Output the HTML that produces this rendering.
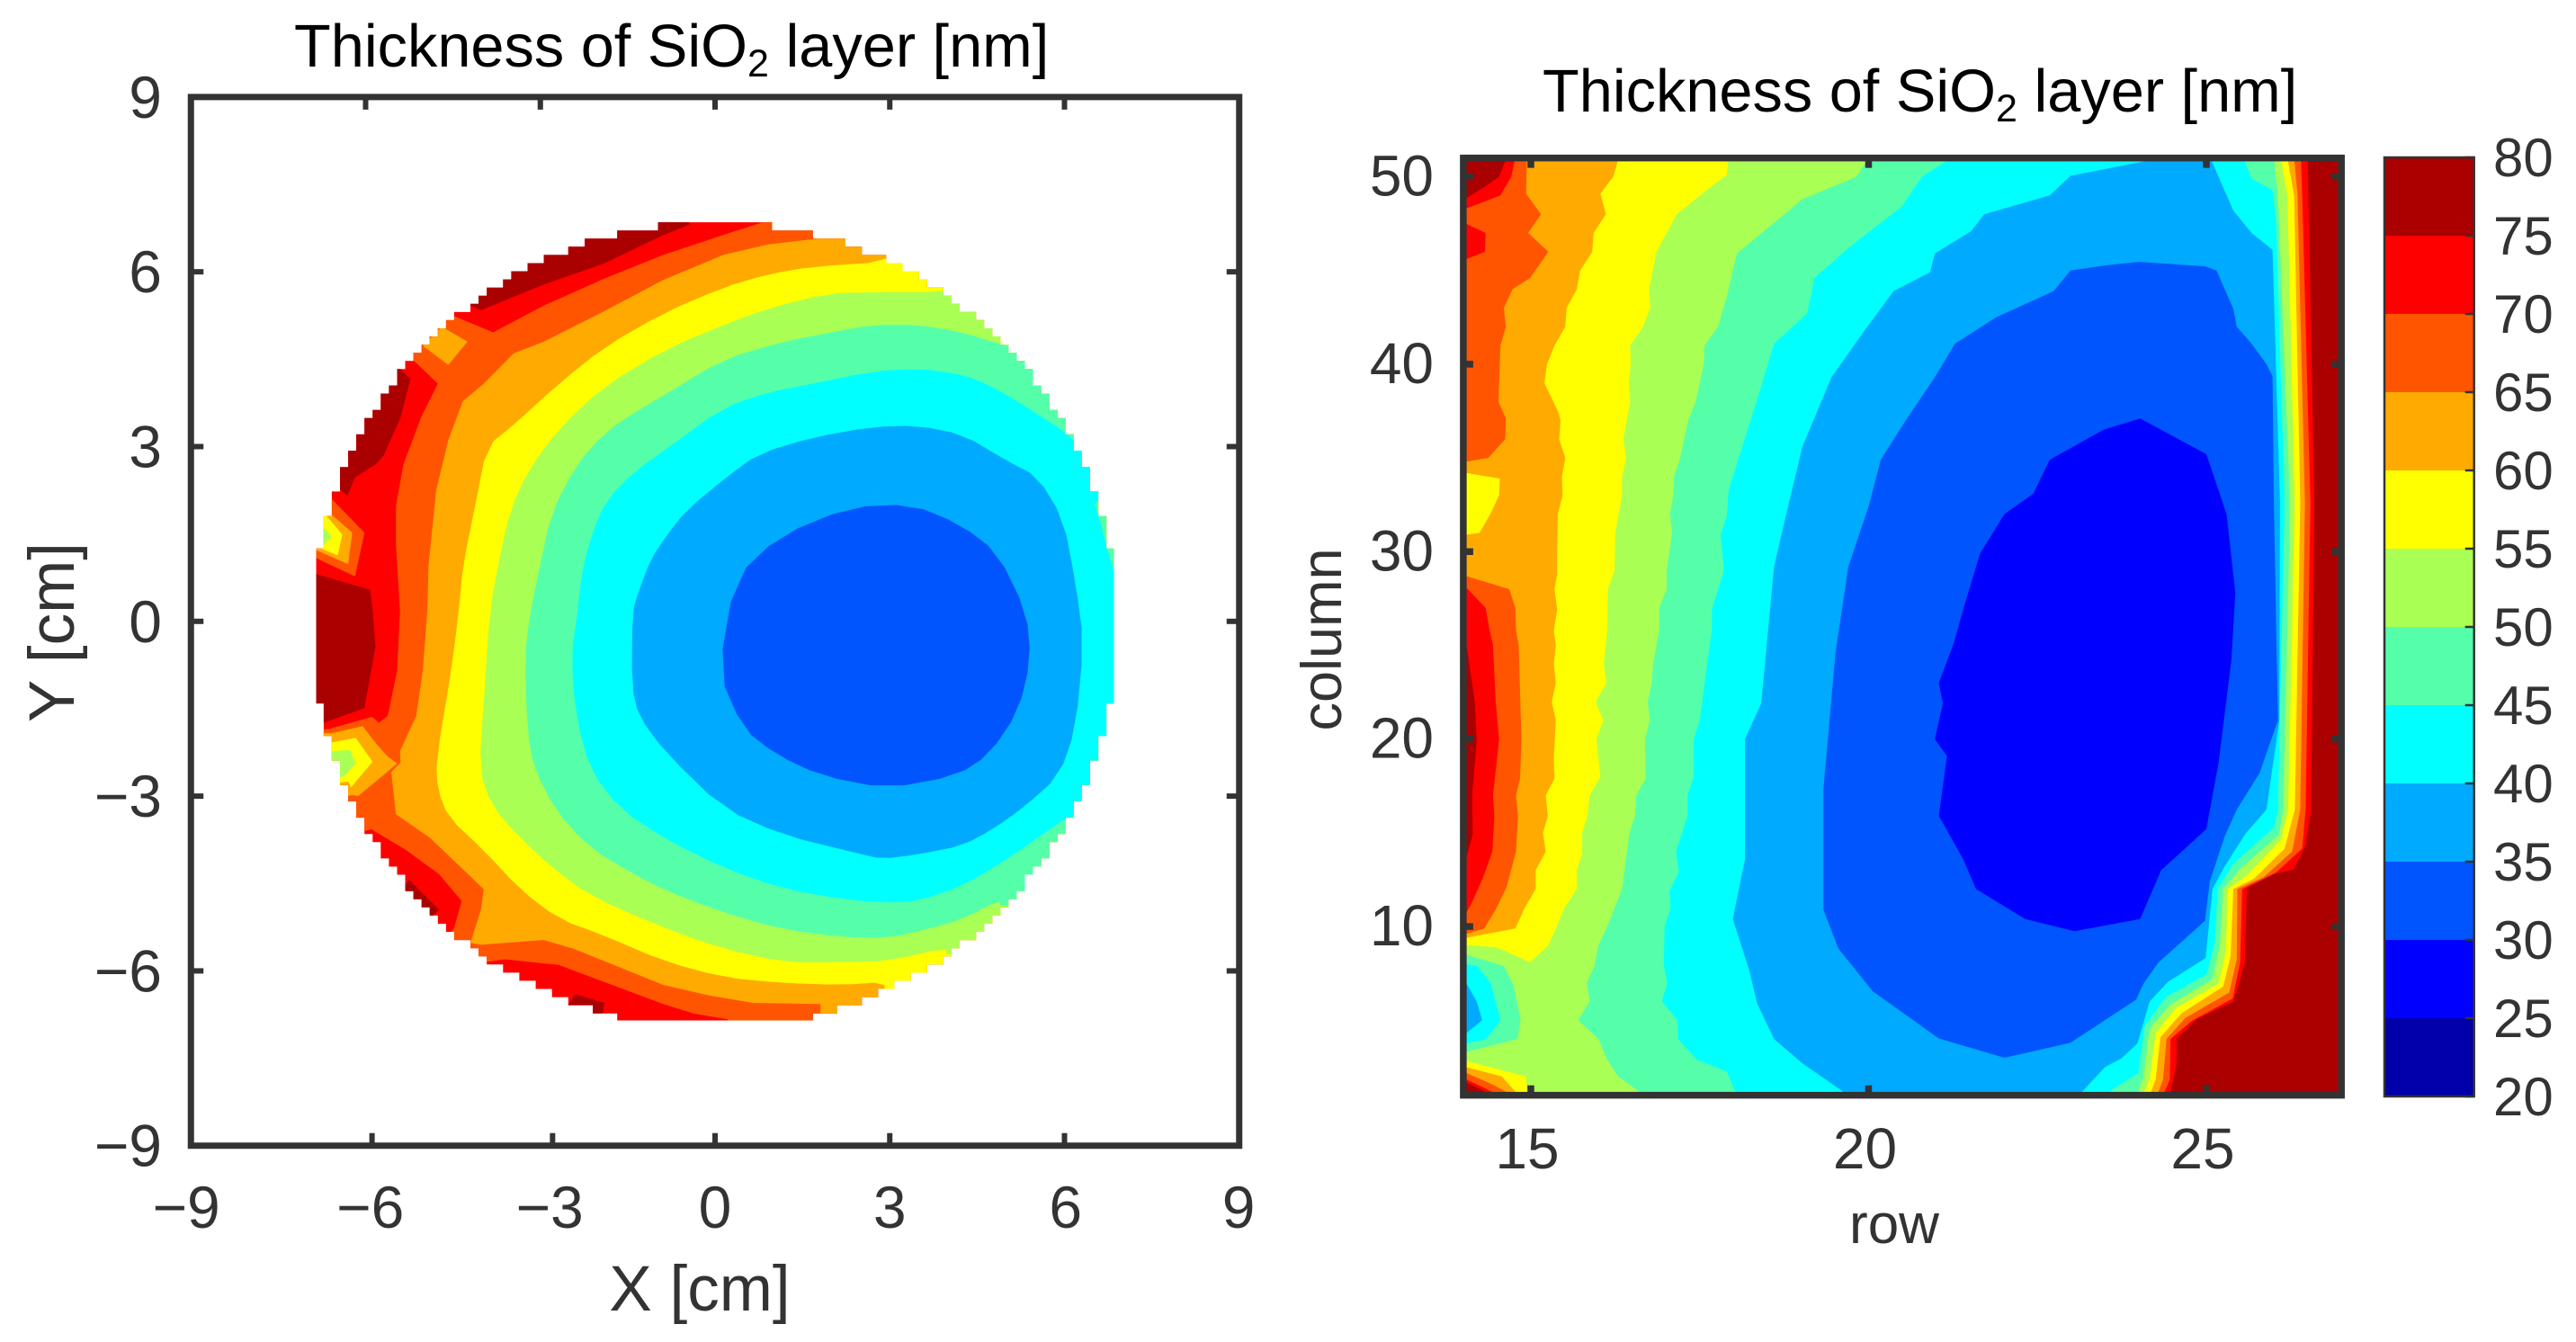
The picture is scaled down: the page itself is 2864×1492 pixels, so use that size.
<!DOCTYPE html>
<html lang="en">
<head>
<meta charset="utf-8">
<title>Thickness of SiO2 layer maps</title>
<style>
html,body{margin:0;padding:0;background:#fff;width:2864px;height:1492px;overflow:hidden}
svg{display:block}
text{font-family:"Liberation Sans",Arial,sans-serif;fill:#333}
</style>
</head>
<body>
<svg id="figure" width="2864" height="1492" viewBox="0 0 2864 1492" xmlns="http://www.w3.org/2000/svg">
  <rect x="0" y="0" width="2864" height="1492" fill="#fff"/>
  <defs>
    <clipPath id="wafer-clip"><polygon id="wafer-clip-shape" points="0,0"/></clipPath>
    <clipPath id="map-clip"><rect id="map-clip-shape" x="0" y="0" width="1" height="1"/></clipPath>
  </defs>

  <text x="327" y="74" font-size="66.7" style="fill:#000">Thickness of SiO<tspan font-size="43" dy="11">2</tspan><tspan dy="-11"> layer [nm]</tspan></text>
  <text x="1715" y="124" font-size="66.7" style="fill:#000">Thickness of SiO<tspan font-size="43" dy="11">2</tspan><tspan dy="-11"> layer [nm]</tspan></text>

  <g id="wafer-bands" clip-path="url(#wafer-clip)"></g>
  <g id="wafer-axes"></g>
  <text x="778" y="1457" font-size="71" text-anchor="middle">X [cm]</text>
  <text x="0" y="0" font-size="71" text-anchor="middle" transform="translate(82,703) rotate(-90)">Y [cm]</text>

  <g id="map-bands" clip-path="url(#map-clip)"></g>
  <g id="map-axes"></g>
  <text x="2106" y="1382" font-size="62" text-anchor="middle">row</text>
  <text x="0" y="0" font-size="63" text-anchor="middle" transform="translate(1491,711) rotate(-90)">column</text>

  <g id="colorbar"></g>
</svg>

<script>
/* ---------- shared colour scale ---------- */
const levelEdges = [20,25,30,35,40,45,50,55,60,65,70,75,80];
const levelColors = ['#0000aa','#0000ff','#0055ff','#00aaff','#00ffff','#55ffaa','#aaff55','#ffff00','#ffaa00','#ff5500','#ff0000','#aa0000'];

/* ---------- wafer chart: ticks ---------- */
const waferTicks = [-9,-6,-3,0,3,6,9];
const waferBottomTicks = [-9,-5.89,-2.79,0,3,6,9];
const waferLabelPos = [-9.08,-5.92,-2.84,0,3,6.02,8.99];
const waferRadius = 6.92;

/* ---------- wafer chart: contour regions in cm (value below level) ---------- */
const waferBelow70 = [[0.89,7.5],[9,8],[9,-8],[0.22,-7.5],[0.22,-6.83],[-0.37,-6.73],[-0.89,-6.57],[-2.68,-5.9],[-3.61,-5.8],[-5,-6],[-4.48,-5.26],[-4.35,-4.8],[-4.74,-4.34],[-5.3,-3.93],[-5.9,-3.57],[-7.5,-4],[-8,-1.85],[-6.64,-1.85],[-5.89,-1.64],[-5.77,-1.74],[-5.62,-1.62],[-5.46,-0.85],[-5.41,0.18],[-5.48,1.31],[-5.48,1.98],[-5.35,2.7],[-5.04,3.52],[-4.76,4.08],[-5.2,4.5],[-6,6],[-4.48,5.24],[-3.81,4.96],[-2.94,5.42],[-1.91,5.88],[-0.89,6.29],[0.19,6.65],[0.89,6.87]];
const waferBelow65 = [[1.86,6.58],[1.86,6.9],[9,7],[9,-7],[1.81,-6.9],[1.81,-6.57],[0.65,-6.55],[-0.11,-6.42],[-0.89,-6.24],[-2.43,-5.62],[-2.94,-5.47],[-4.02,-5.55],[-4.2,-5.52],[-4.02,-4.95],[-3.97,-4.6],[-4.89,-3.72],[-5.48,-3.31],[-5.56,-2.59],[-5.4,-2.42],[-5.41,-2.23],[-5.13,-1.62],[-5.02,-0.85],[-4.94,0.18],[-4.92,0.95],[-4.79,2.24],[-4.58,3.11],[-4.33,3.78],[-3.97,4.08],[-3.46,4.6],[-2.94,4.8],[-1.91,5.32],[-0.89,5.86],[0.14,6.29],[0.91,6.47]];
const waferBelow60 = [[2.94,6.17],[2.94,6.4],[9,6.4],[9,-6.4],[2.91,-6.4],[2.91,-6.19],[2.19,-6.24],[1.17,-6.21],[0.14,-6.11],[-0.89,-5.83],[-1.91,-5.39],[-2.68,-5.11],[-3.35,-4.6],[-3.97,-3.93],[-4.58,-3.36],[-4.76,-2.9],[-4.79,-2.39],[-4.53,-0.85],[-4.4,0.18],[-4.33,0.95],[-4.12,1.98],[-3.92,3.0],[-3.46,3.37],[-2.68,4.08],[-1.91,4.7],[-0.89,5.29],[0.14,5.73],[0.91,5.96],[1.68,6.09]];
const waferBelow55 = [[2.71,5.65],[3.92,5.65],[3.92,5.75],[9,5.75],[9,-5.75],[3.97,-5.75],[3.97,-5.6],[2.97,-5.83],[2.19,-5.85],[1.17,-5.85],[0.14,-5.62],[-0.89,-5.26],[-2.17,-4.7],[-2.79,-4.23],[-3.35,-3.72],[-3.84,-3.16],[-4.05,-2.54],[-3.97,-1.36],[-3.87,0.18],[-3.71,1.05],[-3.51,1.93],[-3.2,2.6],[-2.68,3.31],[-1.91,4.03],[-0.89,4.65],[0.14,5.09],[0.91,5.37],[1.94,5.63]];
const waferBelow50 = [[3.48,5.09],[4.25,4.96],[4.92,4.75],[5.5,4.6],[9,4.8],[9,-4.9],[4.89,-4.9],[4.89,-4.78],[4.25,-5.11],[3.73,-5.26],[2.97,-5.44],[2.19,-5.42],[1.17,-5.29],[0.14,-5.0],[-0.85,-4.62],[-1.36,-4.36],[-2.14,-3.9],[-2.75,-3.23],[-3.11,-2.51],[-3.22,-1.9],[-3.27,-0.6],[-3.17,0.17],[-3.01,0.94],[-2.81,1.86],[-2.39,2.68],[-1.88,3.25],[-1.36,3.6],[-0.85,3.9],[0.14,4.5],[1.17,4.8],[1.94,4.95],[2.71,5.09]];
const waferBelow45 = [[3.48,4.34],[4.25,4.24],[4.76,4.03],[5.28,3.72],[6.07,3.21],[6.7,2.6],[6.9,2.2],[6.5,2.05],[6.56,1.9],[6.72,1.3],[6.87,0.77],[7.5,0.5],[7.5,-0.9],[6.87,-0.95],[6.84,-1.2],[7.2,-1.4],[7.2,-3.0],[6.0,-3.39],[5.79,-3.54],[5.02,-4.08],[4.25,-4.54],[3.48,-4.8],[2.97,-4.83],[2.19,-4.77],[1.17,-4.59],[0.14,-4.23],[-0.85,-3.74],[-1.62,-3.23],[-2.14,-2.56],[-2.39,-1.63],[-2.47,-0.6],[-2.36,0.17],[-2.29,0.83],[-2.13,1.45],[-1.88,2.07],[-1.36,2.59],[-0.85,2.95],[0.14,3.67],[0.91,3.93],[1.68,4.08],[2.71,4.29]];
const waferBelow40 = [[3.48,3.36],[4.25,3.21],[5.02,2.75],[5.53,2.49],[5.98,1.76],[6.19,0.66],[6.33,-0.37],[6.19,-1.84],[5.91,-2.65],[5.28,-3.21],[4.76,-3.57],[4.25,-3.85],[3.48,-4.0],[2.86,-4.08],[2.45,-3.98],[1.17,-3.67],[0.14,-3.21],[-0.85,-2.25],[-1.31,-1.63],[-1.43,-1.12],[-1.42,0.17],[-1.31,0.52],[-1.11,1.05],[-0.85,1.45],[-0.5,1.9],[0.2,2.48],[0.75,2.88],[1.68,3.16],[2.71,3.34]];
const waferBelow35 = [[2.31,1.96],[3.37,2.01],[4.22,1.66],[4.85,1.18],[5.35,0.15],[5.42,-0.66],[5.21,-1.54],[4.71,-2.28],[4.15,-2.65],[2.95,-2.87],[1.82,-2.65],[1.04,-2.28],[0.48,-1.84],[0.06,-0.88],[0.34,0.74],[1.11,1.47]];

/* ---------- wafer chart: edge hot spots and cold spots ---------- */
const waferHotTop = [[-4.33,5.47],[-4.02,5.34],[-2.94,5.78],[-1.91,6.14],[-0.89,6.63],[-0.44,6.81],[-0.44,7.5],[-5,7]];
const waferHotUpperLeft = [[-5.41,4.34],[-5.23,4.16],[-5.41,3.47],[-5.69,2.85],[-5.82,2.7],[-6.18,2.47],[-6.31,2.16],[-6.56,2.36],[-8,3],[-6,5]];
const waferHotLeft = [[-6.87,0.82],[-5.92,0.54],[-5.88,0.18],[-5.83,-0.43],[-6.02,-1.49],[-6.72,-1.74],[-8,-1.74],[-8,0.82]];
const waferHotLowerLeft = [[-5.25,-4.44],[-4.74,-4.95],[-5,-5.2],[-5.6,-4.8]];
const waferHotBottom = [[-2.4,-6.4],[-1.9,-6.55],[-2,-7.2],[-2.8,-7]];
const waferSpotOrangeTop = [[-5.02,4.73],[-4.69,5.06],[-4.25,4.8],[-4.58,4.4]];
const waferSpotUpper65 = [[-6.59,2.11],[-6.02,1.52],[-6.18,0.77],[-6.9,1.11],[-8,1.1],[-8,2]];
const waferSpotUpper60 = [[-6.66,1.9],[-6.23,1.52],[-6.3,0.98],[-6.87,1.23],[-8,1.2],[-8,1.9]];
const waferSpotUpper55 = [[-6.69,1.83],[-6.4,1.49],[-6.48,1.13],[-6.9,1.31],[-8,1.3],[-8,1.85]];
const waferSpotUpper50 = [[-6.69,1.59],[-6.58,1.44],[-6.74,1.31],[-6.87,1.36],[-7.5,1.4]];
const waferSpotLower60 = [[-6.59,-1.92],[-6.05,-1.8],[-5.82,-2.1],[-5.61,-2.33],[-5.46,-2.44],[-5.61,-2.57],[-6.13,-3.0],[-6.23,-2.98],[-8,-3.5],[-8,-1.9]];
const waferSpotLower55 = [[-6.59,-2.08],[-6.17,-2.0],[-5.88,-2.41],[-6.25,-2.85],[-6.3,-2.75],[-8,-3],[-8,-2.1]];
const waferSpotLower50 = [[-6.59,-2.23],[-6.27,-2.21],[-6.17,-2.44],[-6.38,-2.67],[-7.5,-2.7],[-7.5,-2.2]];

/* ---------- row/column chart: ticks ---------- */
const mapRowTicks = [15,20,25];
const mapColumnTicks = [10,20,30,40,50];

/* ---------- row/column chart: contour boundaries as [row, column] ---------- */
const mapLeft75 = [[14.64,51],[14.53,50],[14.29,49.4],[14.04,48.85],[13.5,48.85],[13.5,25.2],[14.04,25.2],[14.17,22],[14.2,19.9],[14.13,17],[14.14,14.9],[14.04,13.6],[13.5,13.6],[13.5,0.5]];
const mapRight75 = [[26.5,51],[26.6,32.6],[26.55,16.24],[26.47,14.32],[26.29,13.04],[26.0,12.8],[25.6,12.05],[25.57,8.08],[25.46,6.64],[25.4,6.0],[24.85,5.04],[24.56,4.0],[24.56,2.64],[24.46,1],[24.46,0.5]];
const mapLeft70 = [[14.77,51],[14.71,50],[14.55,49],[14.04,48.3],[13.5,48.3],[13.5,47.5],[14.04,47.5],[14.33,47],[14.32,46],[14.04,45.6],[13.5,45.6],[13.5,28.1],[14.04,28.1],[14.17,27.6],[14.33,27],[14.39,25.8],[14.44,25],[14.48,22],[14.53,20],[14.44,17],[14.46,15.9],[14.43,14],[14.29,12.6],[14.13,11.3],[14.04,10.7],[13.5,10.7],[13.5,0.5]];
const mapRight70 = [[26.4,51],[26.42,49],[26.54,32.6],[26.47,16.24],[26.42,14.16],[26.03,12.88],[25.53,12],[25.5,8.08],[25.39,6.16],[24.78,4.96],[24.47,4],[24.46,1.84],[24.36,1],[24.36,0.5]];
const mapLeft65 = [[14.94,51],[14.93,49.1],[15.15,48],[14.96,47],[15.26,46],[14.99,44.6],[14.73,44],[14.6,43],[14.63,42],[14.55,41],[14.52,38],[14.63,37.1],[14.62,36],[14.37,35],[14.04,34.8],[13.5,34.8],[13.5,28.7],[14.04,28.7],[14.68,28],[14.77,27],[14.78,25.8],[14.82,25],[14.86,20],[14.84,17.9],[14.78,17],[14.81,15.9],[14.78,14],[14.64,12.1],[14.48,10.9],[14.31,9.9],[14.04,9.6],[13.5,9.6],[13.5,0.5]];
const mapRight65 = [[26.3,51],[26.35,49],[26.46,32.6],[26.39,16.24],[26.27,14],[25.85,12.64],[25.46,12],[25.45,8.24],[25.34,6.48],[24.69,5.12],[24.41,4],[24.36,1.84],[24.27,1],[24.27,0.5]];
const mapLeft60 = [[16.3,51],[16.22,50],[16.03,49.1],[16.11,48],[15.93,47],[15.91,46],[15.73,45],[15.68,44],[15.53,43],[15.51,42],[15.35,41],[15.24,40],[15.2,39],[15.4,37.5],[15.44,37],[15.42,36],[15.51,35],[15.46,34],[15.47,33],[15.4,32],[15.39,30],[15.39,28.8],[15.35,28],[15.39,26.9],[15.34,25.8],[15.37,25],[15.34,24],[15.37,23],[15.31,22],[15.37,21],[15.34,19],[15.35,17.9],[15.22,17],[15.25,15.9],[15.18,15],[15.22,14],[15.07,13],[15.07,12],[14.91,11],[14.77,9.9],[14.04,9.4],[13.5,9.4],[13.5,0.5]];
const mapRight60 = [[26.2,51],[26.3,49],[26.39,32.6],[26.31,16.24],[26.16,14.16],[25.71,12.56],[25.4,12],[25.36,8.4],[25.25,6.8],[24.63,5.36],[24.32,4.08],[24.25,1.84],[24.16,1],[24.16,0.5]];
const mapLeft55 = [[17.93,51],[17.9,50.1],[17.64,49.4],[17.16,48],[16.86,46],[16.75,44],[16.77,43],[16.66,42],[16.47,41],[16.48,40],[16.45,39],[16.47,38],[16.37,36],[16.41,35],[16.35,34],[16.35,33],[16.25,31],[16.24,29],[16.14,28],[16.13,25.8],[16.08,24],[16.12,23],[15.96,22],[16.07,21],[15.97,20],[16.03,18],[15.87,17],[15.84,15.9],[15.76,15],[15.76,13.9],[15.68,13],[15.68,12],[15.5,11],[15.37,9.9],[15.26,9],[14.99,8.1],[14.49,8.9],[14.04,9],[13.5,9],[13.5,0.5]];
const mapRight55 = [[26.1,51],[26.2,49],[26.31,32.6],[26.21,16.24],[26.11,14.64],[25.6,12.72],[25.32,12],[25.29,8.72],[25.18,6.96],[24.56,5.68],[24.25,4.32],[24.16,1.84],[24.06,1],[24.06,0.5]];
const mapLeft50 = [[20,51],[19.82,50],[19.02,48.8],[18.05,45.9],[17.9,43.6],[17.77,42],[17.57,41],[17.56,40],[17.44,38],[17.33,37],[17.21,35],[17.12,34],[17.11,33],[17.06,32],[17.09,31],[17.01,29],[17.01,28],[16.9,27],[16.9,25.84],[16.81,24],[16.79,23],[16.73,22],[16.76,21],[16.69,20],[16.7,17.9],[16.56,17],[16.54,15.9],[16.46,15],[16.42,13.9],[16.35,12],[16.13,10],[16,9],[15.94,7.9],[15.83,7],[15.87,6],[15.7,5],[16,4],[16.13,2.9],[16.29,2],[16.64,1.1],[16.7,0.5]];
const mapRight50 = [[26.0,51],[26.06,49],[26.24,32.6],[26.14,16.24],[26.07,14.88],[25.49,13.04],[25.25,12],[25.2,9.04],[25.09,7.2],[24.47,5.84],[24.16,4.56],[24.07,2.0],[23.98,1],[23.98,0.5]];
const mapLeft45 = [[21.22,51],[20.79,50],[20.49,48.4],[19.7,46.2],[19.2,44.6],[19.09,42.7],[18.6,41.1],[18.41,38.8],[17.93,33.3],[17.9,31.9],[17.81,30.9],[17.86,29],[17.68,26.9],[17.68,25.84],[17.61,24],[17.5,21],[17.41,20],[17.41,18],[17.32,17],[17.32,15.9],[17.15,14],[17.19,12.9],[17.05,11.9],[17.07,11],[16.98,10],[16.97,7.9],[17.02,7],[16.94,6],[17.17,5],[17.18,4],[17.46,2.9],[17.9,2.26],[18.05,1],[18.05,0.5]];
const mapRight45 = [[25.55,51],[25.67,49.9],[25.98,49.3],[26.03,47.75],[26.16,32.6],[26.06,16.24],[26,15.28],[25.4,13.36],[25.17,12],[25.12,9.04],[25,7.44],[24.4,6.24],[24.09,4.72],[23.99,2.16],[23.63,1.36],[23.5,1],[23.5,0.5]];
const mapLeft40 = [[24.15,51],[24.15,50.87],[22.99,50.05],[22.68,49],[21.71,48],[21.52,47.1],[20.98,45.9],[20.91,44.9],[20.37,43.9],[19.94,41.8],[19.45,39.3],[19.02,35.6],[18.78,32],[18.6,29.2],[18.41,21.9],[18.17,20],[18.17,13.6],[17.99,10.4],[18.23,7.7],[18.35,5.9],[18.6,4],[19.02,2.7],[19.7,1],[19.7,0.5]];
const mapRight40 = [[25.06,51],[25.4,48.2],[25.67,47],[25.98,46.1],[26.09,32.6],[26.08,21],[25.89,16.24],[25.58,14.96],[25.27,13.2],[25.09,12],[24.99,8.32],[24.43,7.04],[24.16,6.0],[23.98,3.76],[23.74,2.96],[23.5,2.5],[23.11,1],[23.11,0.5]];
const mapLoop35 = [[23.5,45.27],[24.0,45.46],[24.98,45.22],[25.15,45.0],[25.4,42.95],[25.45,42],[25.67,41.1],[25.89,40],[25.98,39.35],[26.0,32.6],[26.06,21],[25.79,18.2],[25.45,16.24],[25.27,14.8],[25.05,12.4],[24.98,10.3],[24.29,8.08],[24.07,6.96],[23.96,6.1],[22.99,3.8],[22.01,3.0],[21.04,4.03],[20.06,6.55],[19.55,8.84],[19.33,10.9],[19.33,17.3],[19.51,24.6],[19.7,29.2],[20,32.4],[20.18,34.9],[20.55,37],[20.98,39.3],[21.28,41.1],[21.89,42.5],[22.74,43.9],[22.99,45.0]];
const mapLoop30 = [[24.02,37.1],[25,35.2],[25.3,32],[25.43,27.8],[25.37,24.2],[25.18,18.7],[25,15.2],[24.33,13],[24.02,10.4],[23.05,9.75],[22.32,10.4],[21.59,12],[21.4,13.6],[21.04,15.9],[21.16,19.1],[20.98,20],[21.1,21.9],[21.04,23],[21.26,25.1],[21.4,26.9],[21.65,29.9],[22.01,32],[22.44,33.1],[22.68,34.9],[23.48,36.5]];

/* ---------- row/column chart: left-edge spots and bottom-left corner ---------- */
const mapSpotYellow = [[14.04,34.2],[14.54,33.9],[14.53,33],[14.4,32],[14.24,31],[14.04,30.9],[13.5,30.9],[13.5,34.2]];
const mapSpot45 = [[14.04,8.5],[14.6,7.9],[14.74,6.9],[14.85,5],[14.8,4],[14.04,3.3],[13.5,3.3],[13.5,8.5]];
const mapSpot40 = [[14.04,8],[14.2,7.9],[14.4,7],[14.55,5],[14.34,4],[14.04,3.75],[13.5,3.75],[13.5,8]];
const mapSpot35 = [[14.04,7],[14.2,6],[14.28,5],[14.04,4.3],[13.5,4.3],[13.5,7]];
const mapCorner55 = [[14.04,2.84],[14.93,2.0],[14.95,1],[14.95,0.5],[13.5,0.5],[13.5,2.84]];
const mapCorner60 = [[14.04,2.5],[14.57,2],[14.82,1],[14.82,0.5],[13.5,0.5],[13.5,2.5]];
const mapCorner65 = [[14.04,2.2],[14.42,1.6],[14.68,1.1],[14.72,0.5],[13.5,0.5],[13.5,2.2]];
const mapCorner70 = [[14.04,1.85],[14.48,1.1],[14.52,0.5],[13.5,0.5],[13.5,1.85]];
const mapCorner75 = [[14.04,1.7],[14.37,1.1],[14.4,0.5],[13.5,0.5],[13.5,1.7]];

/* ---------- axis functions ---------- */
function waferX(v){ return 795 + v * 64.75; }
function waferY(v){ return 690.8 - v * 64.77; }
function mapX(v){ return 1702 + (v - 15) * 75.1; }
function mapY(v){ return 196.5 + (50 - v) * 20.84; }
function barY(v){ return 1219 - (v - 20) * (1219 - 175) / 60; }

const SVGNS = 'http://www.w3.org/2000/svg';
function colorOf(level){ return levelColors[levelEdges.indexOf(level)]; }

/* corner-cutting so the wafer's interpolated contours read as smooth curves */
function smooth(pts){
  const out = [];
  for (let i = 0; i < pts.length; i++) {
    const a = pts[i], b = pts[(i + 1) % pts.length];
    out.push([a[0] * 0.75 + b[0] * 0.25, a[1] * 0.75 + b[1] * 0.25]);
    out.push([a[0] * 0.25 + b[0] * 0.75, a[1] * 0.25 + b[1] * 0.75]);
  }
  return out;
}
function addBand(parent, pts, level, xf, yf){
  const el = document.createElementNS(SVGNS, 'polygon');
  
  
  el.setAttribute('points', pts.map(function(p){ return xf(p[0]).toFixed(1) + ',' + yf(p[1]).toFixed(1); }).join(' '));
  el.setAttribute('fill', colorOf(level));
  parent.appendChild(el);
}
function addLine(parent, x1, y1, x2, y2, w){
  const el = document.createElementNS(SVGNS, 'line');
  
  
  el.setAttribute('x1', x1);
  el.setAttribute('y1', y1);
  el.setAttribute('x2', x2);
  el.setAttribute('y2', y2);
  el.setAttribute('stroke', '#333');
  el.setAttribute('stroke-width', w);
  parent.appendChild(el);
}
function addLabel(parent, x, y, str, size, anchor){
  const el = document.createElementNS(SVGNS, 'text');
  
  
  el.setAttribute('x', x);
  el.setAttribute('y', y);
  el.setAttribute('font-size', size);
  el.setAttribute('text-anchor', anchor);
  el.textContent = str;
  parent.appendChild(el);
}
function addFrame(parent, x, y, w, h, sw){
  const el = document.createElementNS(SVGNS, 'rect');
  
  
  el.setAttribute('x', x);
  el.setAttribute('y', y);
  el.setAttribute('width', w);
  el.setAttribute('height', h);
  el.setAttribute('fill', 'none');
  el.setAttribute('stroke', '#333');
  el.setAttribute('stroke-width', sw);
  parent.appendChild(el);
}
function fmt(v){ return v < 0 ? '\u2212' + Math.abs(v) : String(v); }

/* ---------- wafer chart ---------- */
(function(){
  const g = document.getElementById('wafer-bands');
  /* stair-stepped wafer outline, as in the gridded source data */
  const step = 0.14, edge = 6.85, right = [], left = [];
  for (let y = edge; y >= -edge - 0.001; y -= step) {
    const half = Math.sqrt(Math.max(0, waferRadius * waferRadius - y * y));
    const x = Math.min(edge, Math.round(half / step) * step);
    right.push([x, y], [x, y - step]);
    left.push([-x, y], [-x, y - step]);
  }
  const outline = right.concat(left.reverse());
  document.getElementById('wafer-clip-shape').setAttribute('points',
    outline.map(function(p){ return waferX(p[0]).toFixed(1) + ',' + waferY(Math.max(-edge, p[1])).toFixed(1); }).join(' '));

  const base = document.createElementNS(SVGNS, 'rect');
  
  
  base.setAttribute('x', waferX(-9));
  base.setAttribute('y', waferY(9));
  base.setAttribute('width', waferX(9) - waferX(-9));
  base.setAttribute('height', waferY(-9) - waferY(9));
  base.setAttribute('fill', colorOf(70));
  g.appendChild(base);

  [[waferHotTop,75],[waferHotUpperLeft,75],[waferHotLeft,75],[waferHotLowerLeft,75],[waferHotBottom,75],
   [waferBelow70,65],[waferBelow65,60],
   [smooth(waferBelow60),55],[smooth(waferBelow55),50],[smooth(waferBelow50),45],
   [smooth(waferBelow45),40],[smooth(waferBelow40),35],[smooth(waferBelow35),30],
   [waferSpotOrangeTop,60],
   [waferSpotUpper65,65],[waferSpotUpper60,60],[waferSpotUpper55,55],[waferSpotUpper50,50],
   [waferSpotLower60,60],[waferSpotLower55,55],[waferSpotLower50,50]
  ].forEach(function(b){ addBand(g, b[0], b[1], waferX, waferY); });

  const a = document.getElementById('wafer-axes');
  const L = waferX(-9), R = waferX(9), T = waferY(9), B = waferY(-9), len = 14;
  waferTicks.forEach(function(v, i){
    if (i > 0 && i < waferTicks.length - 1) {
      addLine(a, waferX(v), T, waferX(v), T + len, 6);
      addLine(a, waferX(waferBottomTicks[i]), B, waferX(waferBottomTicks[i]), B - len, 6);
      addLine(a, L, waferY(v), L + len, waferY(v), 6);
      addLine(a, R, waferY(v), R - len, waferY(v), 6);
    }
    addLabel(a, waferX(waferLabelPos[i]), 1365, fmt(v), 66, 'middle');
    addLabel(a, 180, waferY(v) + 23, fmt(v), 66, 'end');
  });
  addFrame(a, L, T, R - L, B - T, 7);
})();

/* ---------- row/column chart ---------- */
(function(){
  const g = document.getElementById('map-bands');
  const L = mapX(14), R = mapX(27), T = mapY(51), B = mapY(1);
  const clip = document.getElementById('map-clip-shape');
  clip.setAttribute('x', L);
  clip.setAttribute('y', T);
  clip.setAttribute('width', R - L);
  clip.setAttribute('height', B - T);

  const base = document.createElementNS(SVGNS, 'rect');
  
  
  base.setAttribute('x', L);
  base.setAttribute('y', T);
  base.setAttribute('width', R - L);
  base.setAttribute('height', B - T);
  base.setAttribute('fill', colorOf(75));
  g.appendChild(base);

  [[mapLeft75,mapRight75,70],[mapLeft70,mapRight70,65],[mapLeft65,mapRight65,60],[mapLeft60,mapRight60,55],
   [mapLeft55,mapRight55,50],[mapLeft50,mapRight50,45],[mapLeft45,mapRight45,40],[mapLeft40,mapRight40,35]
  ].forEach(function(b){
    addBand(g, b[0].concat(b[1].slice().reverse()), b[2], mapX, mapY);
  });
  [[mapLoop35,30],[mapLoop30,25],[mapSpotYellow,55],[mapSpot45,45],[mapSpot40,40],[mapSpot35,35],
   [mapCorner55,55],[mapCorner60,60],[mapCorner65,65],[mapCorner70,70],[mapCorner75,75]
  ].forEach(function(b){ addBand(g, b[0], b[1], mapX, mapY); });

  const a = document.getElementById('map-axes');
  const len = 11;
  mapRowTicks.forEach(function(v){
    addLine(a, mapX(v), T, mapX(v), T + len, 7.5);
    addLine(a, mapX(v), B, mapX(v), B - len, 7.5);
    addLabel(a, mapX(v) - 4, 1299, String(v), 64, 'middle');
  });
  mapColumnTicks.forEach(function(v){
    addLine(a, L, mapY(v), L + len, mapY(v), 7.5);
    addLine(a, R, mapY(v), R - len, mapY(v), 7.5);
    addLabel(a, 1594, mapY(v) + 21, String(v), 64, 'end');
  });
  addFrame(a, L, T, R - L, B - T, 7.5);
})();

/* ---------- colour bar ---------- */
(function(){
  const c = document.getElementById('colorbar');
  const x0 = 2651, x1 = 2750.7;
  levelColors.forEach(function(col, i){
    const el = document.createElementNS(SVGNS, 'rect');
    
    
    el.setAttribute('x', x0);
    el.setAttribute('y', barY(levelEdges[i + 1]));
    el.setAttribute('width', x1 - x0);
    el.setAttribute('height', barY(levelEdges[i]) - barY(levelEdges[i + 1]));
    el.setAttribute('fill', col);
    c.appendChild(el);
  });
  levelEdges.forEach(function(v){
    addLine(c, x1, barY(v), x1 - 10, barY(v), 2.5);
    addLabel(c, 2772, barY(v) + 21, String(v), 60, 'start');
  });
  addFrame(c, x0, barY(80), x1 - x0, barY(20) - barY(80), 2.5);
})();
</script>
</body>
</html>
